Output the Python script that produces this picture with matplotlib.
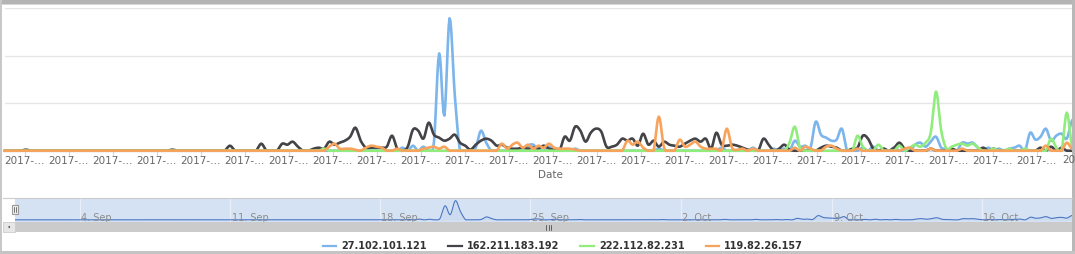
import matplotlib.pyplot as plt
import numpy as np
from matplotlib.lines import Line2D
from matplotlib.patches import Rectangle, Polygon

# series, 6-hour samples starting 2017-09-01
series_names = ['27.102.101.121', '162.211.183.192', '222.112.82.231', '119.82.26.157']
series_colors = ['#7cb5ec', '#434348', '#90ed7d', '#f7a35c']

ip_27 = [
    0, 0, 0, 0, 0, 0, 0, 0, 0, 0, 0, 0, 0, 0, 0, 0, 0, 0, 0, 0,
    0, 0, 0, 0, 0, 0, 0, 0, 0, 0, 0, 0, 0, 0, 0, 0, 0, 0, 0, 0,
    0, 0, 0, 0, 0, 0, 0, 0, 0, 0, 0, 0, 0, 0, 0, 0, 0, 0, 0, 0,
    0, 0, 0, 0, 0, 0, 0, 0, 0, 0, 0, 0, 0, 0, 0, 0, 3, 0, 5, 0,
    4, 0, 8, 97, 35, 132, 55, 0, 0, 0, 3, 20, 8, 0, 0, 0, 0, 0, 0, 0,
    5, 6, 0, 0, 4, 0, 0, 0, 0, 2, 0, 0, 0, 0, 0, 0, 0, 0, 0, 0,
    0, 0, 0, 0, 0, 2, 0, 0, 0, 0, 0, 0, 0, 0, 0, 0, 0, 3, 0, 0,
    0, 0, 0, 3, 0, 0, 0, 2, 0, 2, 0, 10, 4, 5, 3, 29, 16, 13, 10, 11,
    22, 0, 0, 0, 3, 0, 4, 0, 2, 0, 3, 0, 0, 0, 6, 8, 4, 9, 14, 3,
    2, 0, 0, 8, 7, 8, 3, 0, 3, 0, 2, 0, 2, 3, 5, 0, 18, 11, 14, 22,
    10, 15, 17, 12, 30,
]
ip_162 = [
    0, 0, 0, 0, 1, 0, 0, 0, 0, 0, 0, 0, 0, 0, 0, 0, 0, 0, 0, 0,
    0, 0, 0, 0, 0, 0, 0, 0, 0, 0, 0, 0, 1, 0, 0, 0, 0, 0, 0, 0,
    0, 0, 0, 5, 0, 0, 0, 0, 0, 7, 0, 0, 0, 7, 6, 9, 4, 0, 0, 2,
    3, 2, 9, 6, 8, 10, 14, 23, 10, 3, 3, 3, 3, 4, 15, 2, 0, 4, 21, 20,
    12, 28, 16, 13, 10, 12, 16, 8, 5, 1, 6, 10, 12, 10, 5, 6, 3, 2, 2, 3,
    2, 3, 2, 5, 2, 1, 0, 14, 10, 24, 20, 9, 18, 22, 19, 4, 4, 6, 12, 10,
    12, 5, 17, 6, 10, 4, 9, 6, 5, 4, 7, 10, 12, 9, 12, 2, 18, 6, 5, 6,
    5, 3, 1, 0, 0, 12, 6, 0, 2, 6, 1, 0, 0, 0, 0, 0, 3, 5, 4, 3,
    0, 0, 2, 3, 15, 12, 2, 0, 2, 0, 3, 8, 2, 0, 0, 0, 0, 2, 0, 0,
    0, 2, 0, 0, 0, 0, 0, 3, 0, 2, 0, 0, 0, 0, 0, 0, 0, 0, 3, 0,
    4, 0, 3, 0, 0,
]
ip_222 = [
    0, 0, 0, 0, 0, 0, 0, 0, 0, 0, 0, 0, 0, 0, 0, 0, 0, 0, 0, 0,
    0, 0, 0, 0, 0, 0, 0, 0, 0, 0, 0, 0, 0, 0, 0, 0, 0, 0, 0, 0,
    0, 0, 0, 0, 0, 0, 0, 0, 0, 0, 0, 0, 0, 0, 0, 0, 0, 0, 0, 0,
    0, 2, 0, 0, 0, 0, 0, 0, 0, 0, 0, 0, 0, 0, 0, 0, 0, 0, 0, 0,
    0, 0, 0, 0, 0, 0, 0, 0, 0, 0, 0, 0, 0, 0, 0, 0, 0, 0, 0, 0,
    0, 0, 0, 0, 0, 0, 0, 0, 0, 0, 0, 0, 0, 0, 0, 0, 0, 0, 0, 0,
    0, 0, 0, 0, 0, 0, 0, 0, 0, 0, 0, 0, 0, 0, 0, 0, 0, 0, 0, 0,
    0, 0, 0, 0, 0, 0, 0, 0, 0, 0, 8, 24, 3, 0, 0, 0, 0, 0, 0, 0,
    0, 0, 0, 15, 4, 0, 0, 6, 0, 0, 0, 5, 0, 3, 6, 4, 8, 18, 59, 20,
    2, 4, 6, 7, 5, 7, 3, 0, 0, 2, 0, 0, 2, 0, 0, 2, 0, 0, 0, 0,
    12, 3, 0, 38, 5,
]
ip_119 = [
    0, 0, 0, 0, 0, 0, 0, 0, 0, 0, 0, 0, 0, 0, 0, 0, 0, 0, 0, 0,
    0, 0, 0, 0, 0, 0, 0, 0, 0, 0, 0, 0, 0, 0, 0, 0, 0, 0, 0, 0,
    0, 0, 0, 0, 0, 0, 0, 0, 0, 0, 0, 0, 0, 0, 0, 0, 0, 0, 0, 0,
    0, 0, 4, 7, 2, 2, 2, 1, 0, 3, 5, 4, 3, 0, 0, 2, 0, 0, 0, 0,
    2, 3, 4, 2, 4, 0, 0, 0, 0, 0, 0, 0, 0, 0, 0, 7, 2, 6, 8, 3,
    6, 2, 5, 3, 7, 3, 2, 2, 2, 1, 0, 0, 0, 0, 0, 0, 0, 0, 0, 10,
    6, 9, 3, 0, 0, 34, 3, 0, 0, 11, 4, 6, 9, 4, 2, 2, 2, 1, 22, 3,
    1, 2, 0, 2, 0, 0, 0, 0, 0, 0, 0, 3, 0, 4, 2, 0, 0, 4, 5, 2,
    0, 0, 0, 2, 0, 0, 0, 0, 0, 0, 0, 0, 2, 3, 0, 0, 0, 2, 0, 0,
    0, 0, 0, 2, 0, 0, 0, 0, 0, 0, 0, 0, 0, 0, 0, 0, 0, 0, 0, 5,
    0, 0, 0, 8, 2,
]

x_label_text = '2017-…'
nav_labels = ['4. Sep', '11. Sep', '18. Sep', '25. Sep', '2. Oct', '9. Oct', '16. Oct']

W, H = 1075, 254


def box(l, t, r, b):
    # pixel box -> figure fraction
    return [l / W, 1 - b / H, (r - l) / W, (b - t) / H]


def rect_px(l, t, r, b, **kw):
    fig.add_artist(Rectangle((l / W, 1 - b / H), (r - l) / W, (b - t) / H,
                             transform=fig.transFigure, **kw))


def spline(y, steps=6):
    # catmull-rom, like highcharts spline
    y = np.asarray(y, float)
    p = np.concatenate([[y[0]], y, [y[-1]]])
    t = np.linspace(0, 1, steps, endpoint=False)
    xs, ys = [], []
    for i in range(len(y) - 1):
        p0, p1, p2, p3 = p[i], p[i + 1], p[i + 2], p[i + 3]
        seg = 0.5 * (2 * p1 + (-p0 + p2) * t + (2 * p0 - 5 * p1 + 4 * p2 - p3) * t ** 2
                     + (-p0 + 3 * p1 - 3 * p2 + p3) * t ** 3)
        xs.append(i + t)
        ys.append(seg)
    xs.append([len(y) - 1])
    ys.append([y[-1]])
    return np.concatenate(xs), np.clip(np.concatenate(ys), 0, None)


fig = plt.figure(figsize=(W / 100, H / 100), dpi=100)
fig.patch.set_facecolor('white')

all_series = [ip_27, ip_162, ip_222, ip_119]
n = len(ip_27)

# main chart
ax = fig.add_axes(box(5, 8.3, 1072, 150.7))
for vals, c in zip(all_series, series_colors):
    xs, ys = spline(vals)
    ax.plot(xs, ys, color=c, lw=1.9, clip_on=False, solid_joinstyle='round', zorder=3)
ax.set_xlim(0, n - 1)
ax.set_ylim(0, 142)
ax.set_yticks(np.linspace(0, 142, 4))
ax.yaxis.grid(True, color='#e6e6e6', lw=1)
ax.tick_params(axis='y', left=False, labelleft=False)
for s in ax.spines.values():
    s.set_visible(False)
ax.spines['bottom'].set_visible(True)
ax.spines['bottom'].set_color('#ccd6eb')

tick_pos = np.arange(3.8, n - 1, 8.41)
ax.set_xticks(tick_pos)
ax.set_xticklabels([x_label_text] * len(tick_pos))
ax.tick_params(axis='x', length=3.5, width=0.8, color='#ccd6eb', labelsize=7.5,
               labelcolor='#666666', pad=0.5)
# what is left of the next label at the cropped right edge
fig.text(1062 / W, 1 - 160 / H, '20', ha='left', va='center', fontsize=7.5, color='#666666')
fig.text(550 / W, 1 - 175 / H, 'Date', ha='center', va='center', fontsize=7.5, color='#666666')

# navigator
nav = fig.add_axes(box(15, 198.3, 1072, 222.3))
nav.set_facecolor('#d5e2f3')
xs, ys = spline(ip_27)
nav.fill_between(xs, ys, color='#335cad', alpha=0.05, lw=0)
nav.plot(xs, ys, color='#4a76c4', lw=0.8)
nav.set_xlim(0, n - 1)
nav.set_ylim(-17, 148)
week_pos = [12.5, 41.5, 70.4, 99.4, 128.5, 157.7, 186.6]
nav.set_xticks(week_pos)
nav.set_yticks([])
nav.xaxis.grid(True, color='#e9eef7', lw=0.9)
nav.tick_params(axis='x', length=0, labelbottom=False)
for s in nav.spines.values():
    s.set_visible(False)
for p, lab in zip(week_pos, nav_labels):
    nav.text(p + 0.3, 0.16, lab, transform=nav.get_xaxis_transform(), ha='left', va='center',
             fontsize=7, color='#8c8c8c')
fig.add_artist(Line2D([3 / W, 1072 / W], [1 - 198.3 / H] * 2, color='#cccccc', lw=0.8,
                      transform=fig.transFigure))

# navigator handle
rect_px(12, 204.5, 18, 214, facecolor='#f2f2f2', edgecolor='#999999', lw=0.8)
for hx in (14.2, 15.8):
    fig.add_artist(Line2D([hx / W] * 2, [1 - 207 / H, 1 - 211.5 / H], color='#444444', lw=0.5,
                          transform=fig.transFigure))

# scrollbar
rect_px(15, 222.3, 1072, 231.7, facecolor='#cbcbcb', edgecolor='none')
rect_px(3, 222.3, 15, 231.7, facecolor='#e6e6e6', edgecolor='#cccccc', lw=0.6)
fig.add_artist(Polygon([(8 / W, 1 - 227 / H), (9.8 / W, 1 - 225.7 / H), (9.8 / W, 1 - 228.3 / H)],
                       closed=True, facecolor='#333333', edgecolor='none', transform=fig.transFigure))
for gx in (546, 548.5, 551):
    fig.add_artist(Line2D([gx / W] * 2, [1 - 224.5 / H, 1 - 229.5 / H], color='#333333', lw=0.5,
                          transform=fig.transFigure))

# legend
handles = [Line2D([], [], color=c, lw=1.6) for c in series_colors]
fig.legend(handles, series_names, loc='center', bbox_to_anchor=(563 / W, 1 - 246 / H), ncol=4,
           frameon=False, prop={'size': 7, 'weight': 'bold'}, handlelength=1.4,
           handletextpad=0.5, columnspacing=2.2, labelcolor='#333333')

# screenshot frame
rect_px(0, 0, W, 3.5, facecolor='#b4b4b4', edgecolor='none')
rect_px(0, 3.5, W, 5, facecolor='#d8d8d8', edgecolor='none')
rect_px(0, 0, 1.5, H, facecolor='#c8c8c8', edgecolor='none')
rect_px(1072, 0, W, H, facecolor='#b8b8b8', edgecolor='none')
rect_px(0, 251, W, H, facecolor='#c4c4c4', edgecolor='none')

fig.savefig('out.png', dpi=100)
